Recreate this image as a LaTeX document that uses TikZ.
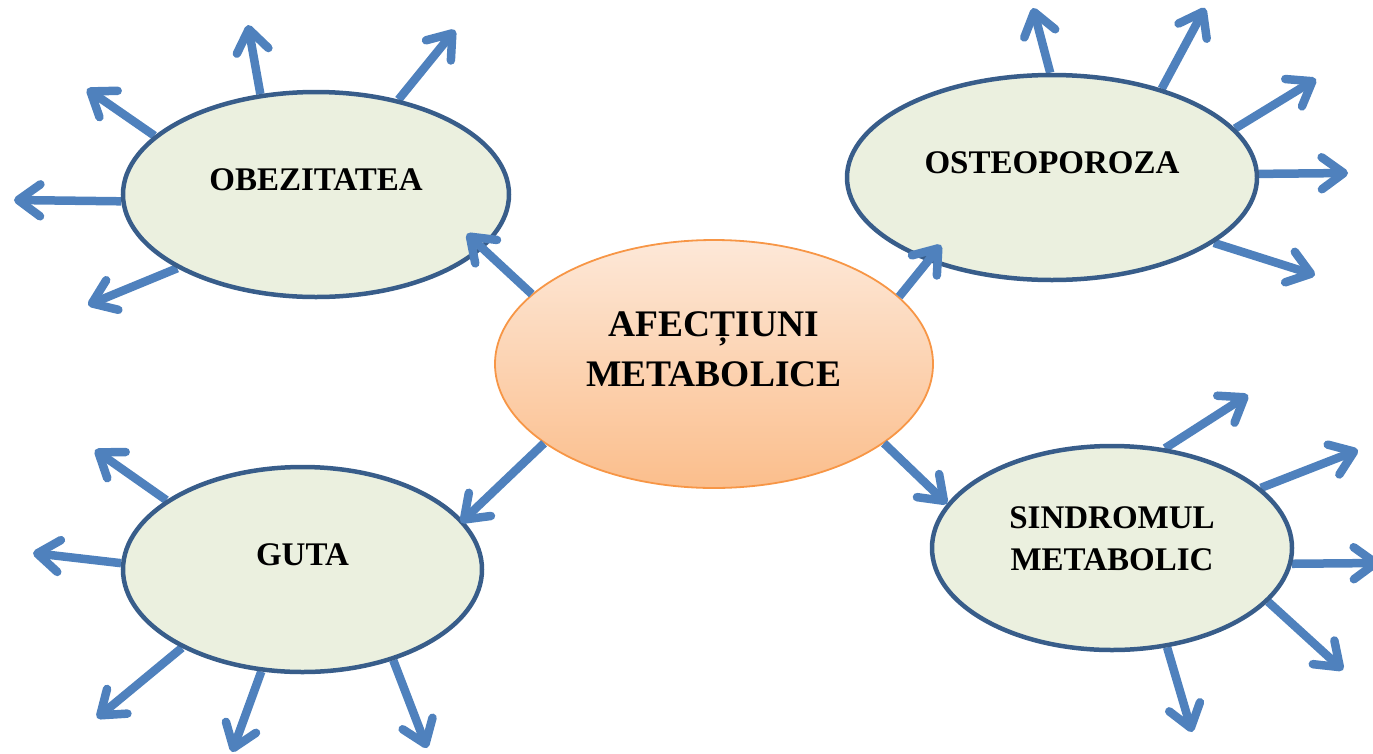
\documentclass[tikz,border=0pt]{standalone}
\usepackage{fontspec}
\setmainfont{Liberation Serif}
\usetikzlibrary{arrows.meta,shapes.geometric,backgrounds}

\definecolor{arrowblue}{HTML}{4F81BD}
\definecolor{rimblue}{HTML}{385D8A}
\definecolor{leaf}{HTML}{EBF0DF}
\definecolor{peachtop}{HTML}{FDE8D8}
\definecolor{peachbot}{HTML}{FBBE8C}
\definecolor{orangerim}{HTML}{F79646}

\tikzset{
  topic/.style={ellipse, draw=rimblue, line width=4.5pt, fill=leaf, inner sep=0pt},
  title/.style={font=\bfseries\fontsize{33}{42}\selectfont, text=black, align=center},
  arr/.style={draw=arrowblue, line width=8.5pt,
    -{Straight Barb[length=22pt,width=32pt,round]}},
}

\begin{document}
\begin{tikzpicture}[x=1pt, y=-1pt]
\useasboundingbox (0,0) rectangle (1373,753);

% central topic
\node[ellipse, draw=orangerim, line width=1.8pt, top color=peachtop, bottom color=peachbot,
      minimum width=438pt, minimum height=248pt, inner sep=0pt,
      label={[yshift=15pt, align=center, font=\bfseries\fontsize{37.5}{50}\selectfont]center:AFECȚIUNI\\METABOLICE}]
      (afec) at (714,364) {};

% the four disorders
\node[topic, minimum width=386pt, minimum height=205pt,
      label={[title, yshift=15pt]center:OBEZITATEA}] (obez) at (316,194.5) {};
\node[topic, minimum width=410pt, minimum height=205pt,
      label={[title, yshift=15pt]center:OSTEOPOROZA}] (osteo) at (1052,177.5) {};
\node[topic, minimum width=359pt, minimum height=205pt,
      label={[title, yshift=15pt]center:GUTA}] (guta) at (302.5,569.5) {};
\node[topic, minimum width=360pt, minimum height=204pt,
      label={[title, yshift=9pt]center:SINDROMUL\\METABOLIC}] (sindr) at (1112,548) {};

% radiating arrows, tucked under the ellipse rims
\begin{scope}[on background layer]
  \foreach \a/\p [count=\i] in {182/{14,200}, 160/{87,89}, 119/{248,25}, 49/{455,30}, 208/{88,305}}
    {\coordinate (obez out \i) at (\p); \draw[arr] (obez.\a) -- (obez out \i);}
  \foreach \a/\p [count=\i] in {91/{1033,8}, 39/{1205,8}, 15/{1316,79}, 1/{1348,173}, 338/{1315,275}}
    {\coordinate (osteo out \i) at (\p); \draw[arr] (osteo.\a) -- (osteo out \i);}
  \foreach \a/\p [count=\i] in {153/{95,450}, 178/{33,553}, 213/{97,718}, 248/{232,752}, 315/{427,748}}
    {\coordinate (guta out \i) at (\p); \draw[arr] (guta.\a) -- (guta out \i);}
  \foreach \a/\p [count=\i] in {62/{1248,395}, 22/{1358,450}, 355/{1380,563}, 341/{1343,670}, 299/{1192,732}}
    {\coordinate (sindr out \i) at (\p); \draw[arr] (sindr.\a) -- (sindr out \i);}
\end{scope}

% links from the central topic
\draw[arr, shorten >=-22pt] (afec.159) -- (obez.342);
\draw[arr, shorten >=-21pt] (afec.20) -- (osteo.214);
\draw[arr, shorten >=-3pt] (afec.205) -- (guta.17);
\draw[arr] (afec.335) -- (sindr.165);
\end{tikzpicture}
\end{document}
